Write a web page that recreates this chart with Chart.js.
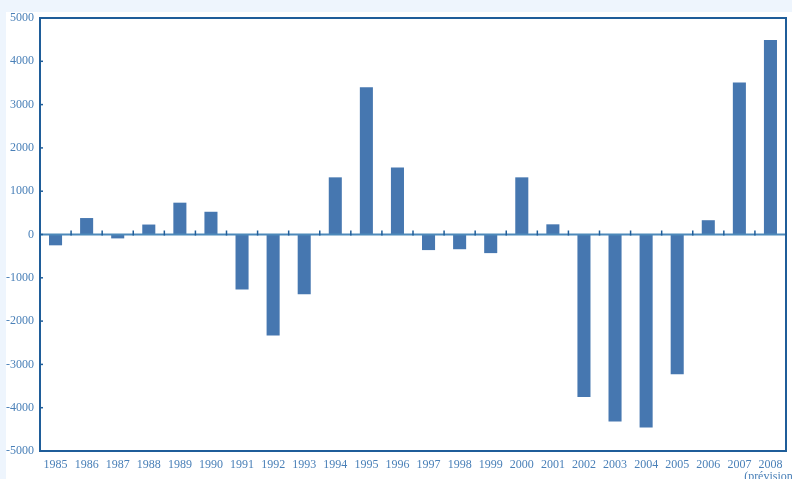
<!DOCTYPE html>
<html>
<head>
<meta charset="utf-8">
<script src="https://cdn.jsdelivr.net/npm/chart.js@4/dist/chart.umd.min.js"></script>
<style>
  html, body { margin: 0; padding: 0; overflow: hidden; }
  body { width: 792px; height: 479px; background: #eef5fd; position: relative; }
  #wrap { position: absolute; left: 6px; top: 12px; width: 786px; height: 474px; background: #fff; }
</style>
</head>
<body>
<div id="wrap"><canvas id="chart"></canvas></div>
<script>
// -- Data --
var years = ['1985', '1986', '1987', '1988', '1989', '1990', '1991', '1992',
  '1993', '1994', '1995', '1996', '1997', '1998', '1999', '2000', '2001',
  '2002', '2003', '2004', '2005', '2006', '2007', ['2008', '(prévision)']];
var values = [-250, 380, -90, 230, 735, 525, -1270, -2330, -1380, 1320, 3400,
  1550, -360, -340, -430, 1320, 235, -3750, -4320, -4460, -3230, 330, 3510, 4490];
var yTicks = [5000, 4000, 3000, 2000, 1000, 0, -1000, -2000, -3000, -4000, -5000];

var frameColor = '#1f5d99';
var textColor = '#4a80b8';
var barColor = '#4677b0';
var zeroColor = '#4d89ba';

// Frame, zero line and small tick marks, placed from the scales
var framePlugin = {
  id: 'frame',
  afterDatasetsDraw: function (chart) {
    var ctx = chart.ctx;
    var area = chart.chartArea;
    var x = chart.scales.x;
    var y = chart.scales.y;
    var zeroY = y.getPixelForValue(0);
    ctx.save();

    // zero line
    ctx.strokeStyle = zeroColor;
    ctx.lineWidth = 2;
    ctx.beginPath();
    ctx.moveTo(area.left, zeroY);
    ctx.lineTo(area.right, zeroY);
    ctx.stroke();

    // ticks between categories on the zero line
    ctx.strokeStyle = frameColor;
    ctx.lineWidth = 1.5;
    for (var i = 0; i < years.length - 1; i++) {
      var bx = (x.getPixelForValue(i) + x.getPixelForValue(i + 1)) / 2;
      ctx.beginPath();
      ctx.moveTo(bx, zeroY - 4);
      ctx.lineTo(bx, zeroY + 1);
      ctx.stroke();
    }

    // inward ticks on the y axis
    for (var j = 0; j < yTicks.length; j++) {
      var ty = y.getPixelForValue(yTicks[j]);
      ctx.beginPath();
      ctx.moveTo(area.left, ty);
      ctx.lineTo(area.left + 3, ty);
      ctx.stroke();
    }

    // frame
    ctx.strokeStyle = frameColor;
    ctx.lineWidth = 2;
    ctx.strokeRect(area.left, area.top, area.right - area.left, area.bottom - area.top);
    ctx.restore();
  }
};

new Chart(document.getElementById('chart').getContext('2d'), {
  type: 'bar',
  data: {
    labels: years,
    datasets: [{
      data: values,
      backgroundColor: barColor,
      borderWidth: 0,
      barPercentage: 0.42,
      categoryPercentage: 1.0
    }]
  },
  options: {
    responsive: true,
    maintainAspectRatio: false,
    animation: false,
    layout: { padding: { left: 0, right: 6, top: 6, bottom: 0 } },
    plugins: {
      legend: { display: false },
      tooltip: { enabled: false }
    },
    scales: {
      x: {
        offset: true,
        grid: { display: false, drawTicks: false },
        border: { display: false },
        ticks: {
          color: textColor,
          padding: 8,
          maxRotation: 0,
          autoSkip: false,
          font: { family: '"Liberation Serif", serif', size: 12, lineHeight: 1.0 }
        },
        afterFit: function (scale) {
          scale.height = 35;
          scale.paddingLeft = 0;
          scale.paddingRight = 0;
        }
      },
      y: {
        min: -5000,
        max: 5000,
        grid: { display: false, drawTicks: false },
        border: { display: false },
        ticks: {
          stepSize: 1000,
          color: textColor,
          padding: 6,
          font: { family: '"Liberation Serif", serif', size: 12 },
          callback: function (v) { return String(v); }
        },
        afterFit: function (scale) {
          scale.width = 34;
          scale.paddingTop = 0;
          scale.paddingBottom = 0;
        }
      }
    }
  },
  plugins: [framePlugin]
});
</script>
</body>
</html>
